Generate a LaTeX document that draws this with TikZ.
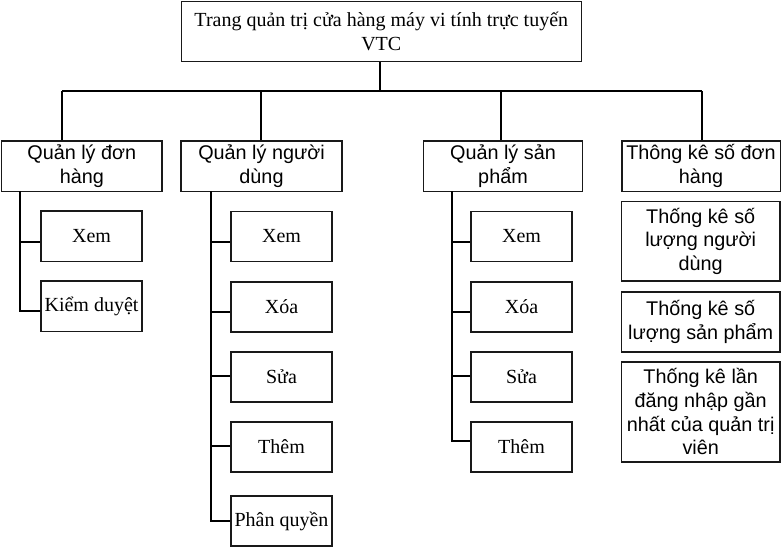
\documentclass[tikz,border=0pt]{standalone}
\usepackage{fontspec}
\setmainfont{Liberation Serif}
\newfontfamily\sansf{Liberation Sans}
\begin{document}
\begin{tikzpicture}[x=1pt,y=-1pt,
  box/.style={draw=black!90,line width=1.6pt,rectangle,inner sep=0pt,anchor=center,align=center,
    font=\fontsize{20}{23.6}\selectfont},
  sbox/.style={box,font=\sansf\fontsize{19.8}{23.8}\selectfont},
  link/.style={draw=black,line width=1.8pt}]
\useasboundingbox (0,0) rectangle (781,547);
% top
\node[box,minimum width=400pt,minimum height=60pt] (top) at (381.3,31.5) {Trang quản trị cửa hàng máy vi tính trực tuyến\\VTC};
% level 1
\node[sbox,minimum width=160.3pt,minimum height=50.7pt] (A) at (81.8,166.3) {Quản lý đơn\\hàng};
\node[sbox,minimum width=161pt,minimum height=50.7pt] (B) at (261.5,166.3) {Quản lý người\\dùng};
\node[sbox,minimum width=159.3pt,minimum height=50.7pt] (C) at (503,166.3) {Quản lý sản\\phẩm};
\node[sbox,minimum width=158.6pt,minimum height=50.7pt] (D) at (701,166.3) {Thông kê số đơn\\hàng};
% A children
\node[box,minimum width=101pt,minimum height=50.7pt] (a1) at (91.5,236.3) {Xem};
\node[box,minimum width=101pt,minimum height=50.7pt] (a2) at (91.5,306.3) {Kiểm duyệt};
% B children
\node[box,minimum width=101pt,minimum height=50pt] (b1) at (281.5,236.3) {Xem};
\node[box,minimum width=101pt,minimum height=50pt] (b2) at (281.5,306.7) {Xóa};
\node[box,minimum width=101pt,minimum height=50pt] (b3) at (281.5,376.7) {Sửa};
\node[box,minimum width=101pt,minimum height=50pt] (b4) at (281.5,446.7) {Thêm};
\node[box,minimum width=101pt,minimum height=50.3pt] (b5) at (281.5,521) {Phân quyền};
% C children
\node[box,minimum width=101pt,minimum height=50pt] (c1) at (521.5,236.3) {Xem};
\node[box,minimum width=101pt,minimum height=50pt] (c2) at (521.5,306.7) {Xóa};
\node[box,minimum width=101pt,minimum height=50pt] (c3) at (521.5,376.7) {Sửa};
\node[box,minimum width=101pt,minimum height=50pt] (c4) at (521.5,446.7) {Thêm};
% D children
\node[sbox,minimum width=158.7pt,minimum height=79.3pt] (d1) at (700.7,241.3) {Thống kê số\\lượng người\\dùng};
\node[sbox,minimum width=158.7pt,minimum height=60pt] (d2) at (700.7,321.7) {Thống kê số\\lượng sản phẩm};
\node[sbox,minimum width=158.7pt,minimum height=100pt] (d3) at (700.7,411.7) {Thống kê lần\\đăng nhập gần\\nhất của quản trị\\viên};
% connectors top
\coordinate (bus) at (380,91);
\coordinate (busL) at (62,91);
\coordinate (busB) at (261,91);
\coordinate (busR) at (702,91);
\coordinate (busC) at (501,91);
\draw[link] ([xshift=-1.3pt]top.south) -- ([xshift=-1.3pt]top.south |- bus);
\draw[link] (busL) -- (busR);
\draw[link] (busL) -- (A.north -| busL);
\draw[link] (busB) -- (B.north -| busB);
\draw[link] (busC) -- (C.north -| busC);
\draw[link] (busR) -- (D.north -| busR);
% A trunk
\coordinate (ta) at (20,191);
\draw[link] (ta) |- ([yshift=-5.4pt]a1.west);
\draw[link] (ta) |- ([yshift=-4.4pt]a2.west);
% B trunk
\coordinate (tb) at (211,191);
\draw[link] (tb) |- ([yshift=-5.4pt]b1.west);
\draw[link] (tb) |- ([yshift=-5pt]b2.west);
\draw[link] (tb) |- ([yshift=1pt]b3.west);
\draw[link] (tb) |- ([yshift=0.7pt]b4.west);
\draw[link] (tb) |- (b5.west);
% C trunk
\coordinate (tc) at (451.7,191);
\draw[link] (tc) |- ([yshift=-5.4pt]c1.west);
\draw[link] (tc) |- ([yshift=-5pt]c2.west);
\draw[link] (tc) |- ([yshift=1pt]c3.west);
\draw[link] (tc) |- ([yshift=6pt]c4.west);
\end{tikzpicture}
\end{document}
